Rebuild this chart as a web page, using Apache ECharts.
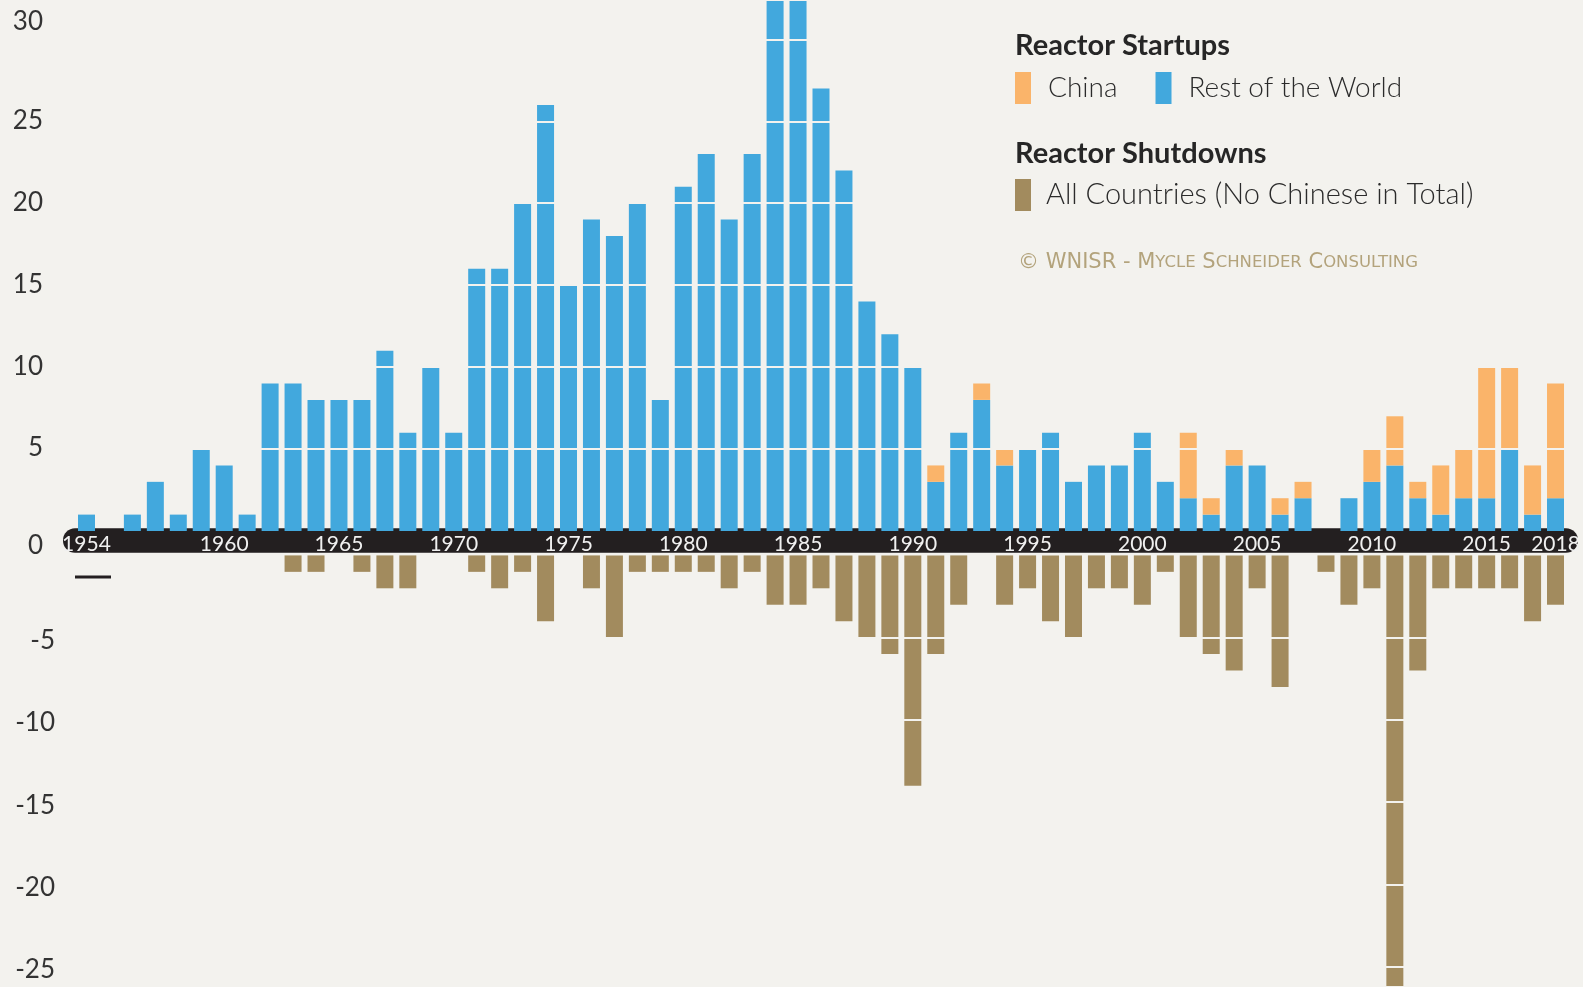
<!DOCTYPE html>
<html>
<head>
<meta charset="utf-8">
<style>
  html, body { margin: 0; padding: 0; background: #f3f2ee; }
  #chart { width: 1583px; height: 987px; }
</style>
<script src="https://cdn.jsdelivr.net/npm/echarts@6/dist/echarts.min.js"></script>
</head>
<body>
<div id="chart"></div>
<script>
var years = ['1954','1955','1956','1957','1958','1959','1960','1961','1962','1963',
  '1964','1965','1966','1967','1968','1969','1970','1971','1972','1973',
  '1974','1975','1976','1977','1978','1979','1980','1981','1982','1983',
  '1984','1985','1986','1987','1988','1989','1990','1991','1992','1993',
  '1994','1995','1996','1997','1998','1999','2000','2001','2002','2003',
  '2004','2005','2006','2007','2008','2009','2010','2011','2012','2013',
  '2014','2015','2016','2017','2018'];

// startups outside China
var restOfWorld = [1, 0, 1, 3, 1, 5, 4, 1, 9, 9,
  8, 8, 8, 11, 6, 10, 6, 16, 16, 20,
  26, 15, 19, 18, 20, 8, 21, 23, 19, 23,
  33, 33, 27, 22, 14, 12, 10, 3, 6, 8,
  4, 5, 6, 3, 4, 4, 6, 3, 2, 1,
  4, 4, 1, 2, 0, 2, 3, 4, 2, 1,
  2, 2, 5, 1, 2];

// startups in China
var china = [0, 0, 0, 0, 0, 0, 0, 0, 0, 0,
  0, 0, 0, 0, 0, 0, 0, 0, 0, 0,
  0, 0, 0, 0, 0, 0, 0, 0, 0, 0,
  0, 0, 0, 0, 0, 0, 0, 1, 0, 1,
  1, 0, 0, 0, 0, 0, 0, 0, 4, 1,
  1, 0, 1, 1, 0, 0, 2, 3, 1, 3,
  3, 8, 5, 3, 7];

// shutdowns, all countries (counts, drawn downwards)
var shutdowns = [0, 0, 0, 0, 0, 0, 0, 0, 0, 1,
  1, 0, 1, 2, 2, 0, 0, 1, 2, 1,
  4, 0, 2, 5, 1, 1, 1, 1, 2, 1,
  3, 3, 2, 4, 5, 6, 14, 6, 3, 0,
  3, 2, 4, 5, 2, 2, 3, 1, 5, 6,
  7, 2, 8, 0, 1, 3, 2, 27, 7, 2,
  2, 2, 2, 4, 3];

var yearLabels = ['1954','1960','1965','1970','1975','1980','1985','1990','1995','2000','2005','2010','2015','2018'];

var bg = '#f3f2ee';
var labelFont = 'Lato, "Open Sans", sans-serif';

var chart = echarts.init(document.getElementById('chart'));

var option = {
  backgroundColor: bg,
  animation: false,
  title: [
    {
      text: 'Reactor Startups', left: 1015, top: 31, padding: 0,
      textStyle: { fontFamily: labelFont, fontWeight: 'bold', fontSize: 29, color: '#262626' }
    },
    {
      text: 'Reactor Shutdowns', left: 1015, top: 139, padding: 0,
      textStyle: { fontFamily: labelFont, fontWeight: 'bold', fontSize: 29, color: '#262626' }
    },
    {
      text: '© WNISR - M{s|YCLE} S{s|CHNEIDER} C{s|ONSULTING}', left: 1018, top: 252, padding: 0,
      textStyle: {
        fontFamily: '"DejaVu Sans", sans-serif', fontWeight: 'normal', fontSize: 21, color: '#b3a37c',
        rich: { s: { fontFamily: '"DejaVu Sans", sans-serif', fontWeight: 'normal', fontSize: 16.5, color: '#b3a37c' } }
      }
    }
  ],
  legend: [
    {
      data: ['China', 'Rest of the World'],
      left: 1015, top: 72, padding: 0,
      icon: 'rect', itemWidth: 16, itemHeight: 32, itemGap: 38,
      textStyle: { fontFamily: labelFont, fontWeight: 300, fontSize: 28, color: '#2b2b2b', padding: [0, 0, 0, 12] }
    },
    {
      data: ['All Countries (No Chinese in Total)'],
      left: 1015, top: 179, padding: 0,
      icon: 'rect', itemWidth: 16, itemHeight: 32,
      textStyle: { fontFamily: labelFont, fontWeight: 300, fontSize: 29, color: '#2b2b2b', padding: [0, 0, 0, 10] }
    }
  ],
  grid: [
    { left: 75, right: 16, top: 0, height: 531 },
    { left: 75, right: 16, top: 555.4, bottom: 0 }
  ],
  xAxis: [
    {
      type: 'category', gridIndex: 0, data: years,
      axisLine: { show: false }, axisTick: { show: false }, axisLabel: { show: false }
    },
    {
      type: 'category', gridIndex: 1, data: years, position: 'top', z: 10,
      axisLine: { show: false }, axisTick: { show: false },
      axisLabel: {
        interval: 0, margin: 11.5, verticalAlign: 'middle',
        fontFamily: labelFont, fontSize: 21, color: '#f0f0f0',
        formatter: function (v) { return yearLabels.indexOf(v) >= 0 ? v : ''; }
      }
    }
  ],
  yAxis: [
    {
      type: 'value', gridIndex: 0, min: 0, max: 32.4, interval: 5, z: 3,
      axisLine: { show: false }, axisTick: { show: false },
      splitLine: { show: true, showMinLine: false, lineStyle: { color: bg, width: 2 } },
      axisLabel: {
        margin: 32, fontFamily: labelFont, fontSize: 26, color: '#333',
        formatter: function (v) {
          if (v === 30) return '{t|30}';
          if (v === 0) return '{z|0}';
          return '{p|' + v + '}';
        },
        rich: {
          p: { fontFamily: labelFont, fontSize: 26, color: '#333', padding: [0, 0, 2, 0] },
          t: { fontFamily: labelFont, fontSize: 26, color: '#333', padding: [0, 0, 36, 0] },
          z: { fontFamily: labelFont, fontSize: 26, color: '#333', padding: [30, 0, 0, 0] }
        }
      }
    },
    {
      type: 'value', gridIndex: 1, min: 0, max: 26.24, interval: 5, inverse: true, z: 3,
      axisLine: { show: false }, axisTick: { show: false },
      splitLine: { show: true, showMinLine: false, lineStyle: { color: bg, width: 2 } },
      axisLabel: {
        margin: 20, fontFamily: labelFont, fontSize: 26, color: '#333',
        formatter: function (v) { return v === 0 ? '' : '{n|-' + v + '}'; },
        rich: {
          n: { fontFamily: labelFont, fontSize: 26, color: '#333', padding: [6, 0, 0, 0] }
        }
      }
    }
  ],
  graphic: [
    {
      type: 'rect', z: 1,
      shape: { x: 63, y: 528.3, width: 1515, height: 24.5, r: 12 },
      style: { fill: '#231f20' }
    },
    {
      type: 'line', z: 1,
      shape: { x1: 75, y1: 577, x2: 111, y2: 577 },
      style: { stroke: '#231f20', lineWidth: 3 }
    }
  ],
  series: [
    {
      name: 'Rest of the World', type: 'bar', stack: 'start',
      xAxisIndex: 0, yAxisIndex: 0, barWidth: 17,
      itemStyle: { color: '#42a8dd' },
      data: restOfWorld
    },
    {
      name: 'China', type: 'bar', stack: 'start',
      xAxisIndex: 0, yAxisIndex: 0, barWidth: 17,
      itemStyle: { color: '#fab46a' },
      data: china
    },
    {
      name: 'All Countries (No Chinese in Total)', type: 'bar',
      xAxisIndex: 1, yAxisIndex: 1, barWidth: 17,
      itemStyle: { color: '#a28b5e' },
      data: shutdowns
    }
  ]
};

chart.setOption(option);
</script>
</body>
</html>
